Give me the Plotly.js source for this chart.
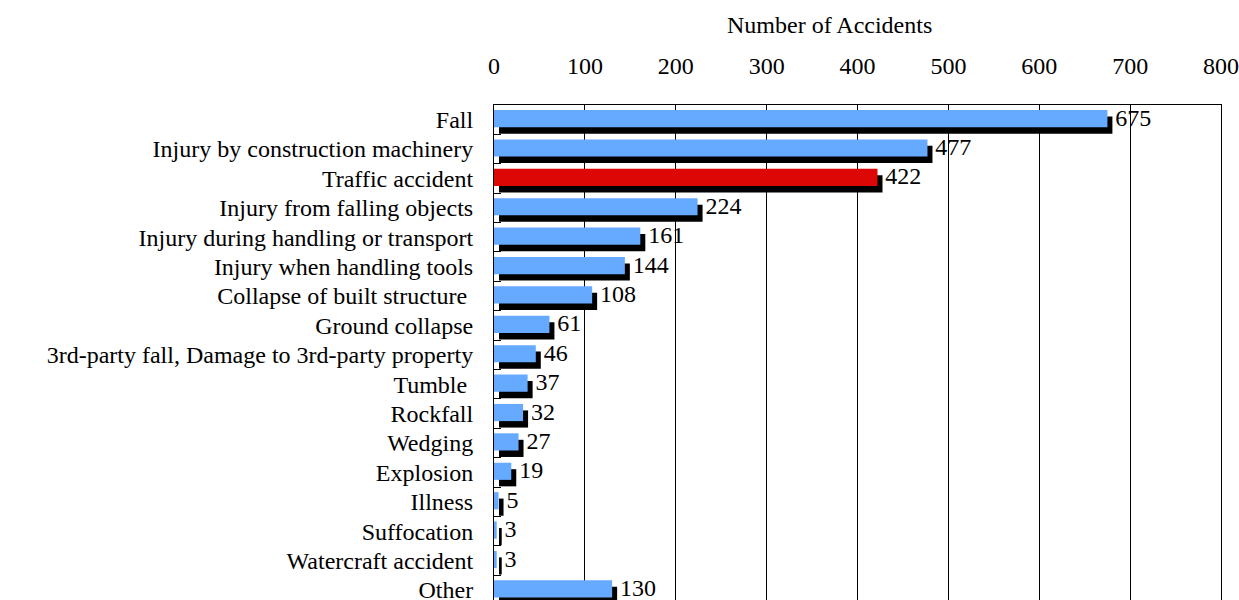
<!DOCTYPE html>
<html>
<head>
<meta charset="utf-8">
<script src="https://cdn.plot.ly/plotly-3.0.1.min.js"></script>
<style>html,body{margin:0;padding:0;background:#fff;}#chart{width:1239px;height:600px;}</style>
</head>
<body>
<div id="chart"></div>
<script>
// Data
const categories = [
  "Fall",
  "Injury by construction machinery",
  "Traffic accident",
  "Injury from falling objects",
  "Injury during handling or transport",
  "Injury when handling tools",
  "Collapse of built structure ",
  "Ground collapse",
  "3rd-party fall, Damage to 3rd-party property",
  "Tumble ",
  "Rockfall",
  "Wedging",
  "Explosion",
  "Illness",
  "Suffocation",
  "Watercraft accident",
  "Other"
];
const accidents = [675, 477, 422, 224, 161, 144, 108, 61, 46, 37, 32, 27, 19, 5, 3, 3, 130];
const highlighted = "Traffic accident";
const xTickVals = [0, 100, 200, 300, 400, 500, 600, 700, 800];
const xTitle = "Number of Accidents";

// Styles
const BLUE = "#66aaff";
const RED = "#dd0806";
const SHADOW_SHIFT = 5.5;
const FONT = "Liberation Serif";
const FS = 24;
const FS_CAT = 24;

const barColors = categories.map(c => c === highlighted ? RED : BLUE);

const shadow = {
  type: "bar", orientation: "h",
  x: accidents, y: categories,
  base: SHADOW_SHIFT,
  width: 0.584, offset: -0.11,
  marker: {color: "#000000", line: {width: 0}},
  hoverinfo: "skip", showlegend: false
};
const bars = {
  type: "bar", orientation: "h",
  x: accidents, y: categories,
  width: 0.584, offset: -0.33,
  marker: {color: barColors, line: {width: 0}},
  hoverinfo: "skip", showlegend: false
};
const labels = {
  type: "scatter", mode: "markers+text",
  x: accidents, y: categories,
  text: accidents.map(String),
  textposition: "middle right",
  textfont: {family: FONT, size: FS, color: "#000"},
  marker: {size: 11, color: "rgba(0,0,0,0)"},
  cliponaxis: false,
  hoverinfo: "skip", showlegend: false
};

const layout = {
  width: 1239, height: 600,
  margin: {l: 494, r: 18, t: 105, b: 0},
  paper_bgcolor: "#fff", plot_bgcolor: "#fff",
  barmode: "overlay",
  font: {family: FONT, size: FS, color: "#000"},
  xaxis: {
    side: "top", range: [0, 800], tickvals: xTickVals,
    showgrid: true, gridcolor: "#000", gridwidth: 1,
    zeroline: false, showline: true, linecolor: "#000", linewidth: 1, mirror: true,
    ticks: "", tickfont: {family: FONT, size: FS}, ticklabelstandoff: 20
  },
  yaxis: {
    type: "category", range: [16.34, -0.5],
    tickmode: "array", tickvals: categories, ticktext: categories,
    showline: true, linecolor: "#000", linewidth: 1, mirror: true,
    ticks: "inside", tickson: "boundaries", ticklen: 7, tickcolor: "#000",
    showgrid: false, zeroline: false,
    tickfont: {family: FONT, size: FS_CAT}, ticklabelstandoff: 15
  },
  annotations: [{
    text: xTitle, xref: "paper", yref: "paper",
    x: 0.462, y: 1, yshift: 80, xanchor: "center", yanchor: "middle",
    showarrow: false, font: {family: FONT, size: FS, color: "#000"}
  }]
};

Plotly.newPlot("chart", [shadow, bars, labels], layout, {displayModeBar: false, staticPlot: true});
</script>
</body>
</html>
